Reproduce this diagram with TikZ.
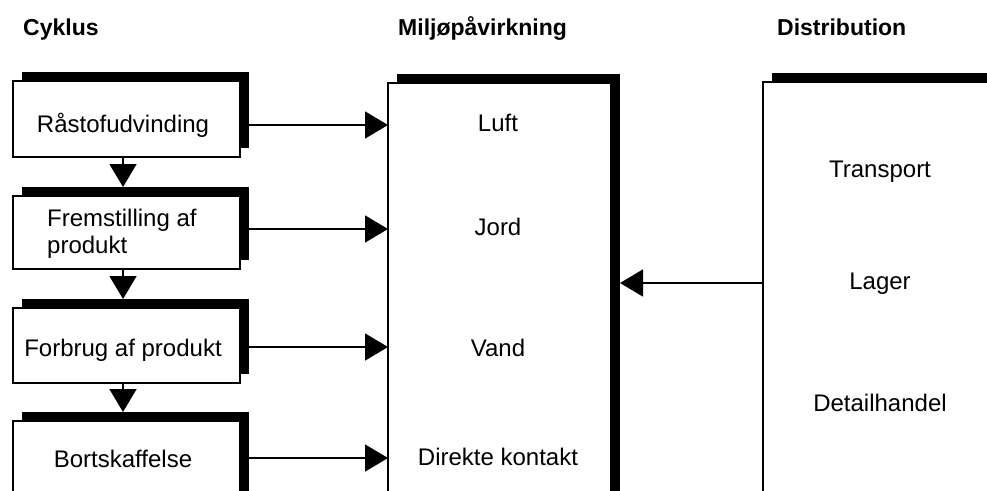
\documentclass[tikz,border=0pt]{standalone}
\usepackage{fontspec}
\setmainfont{Liberation Sans}
\usetikzlibrary{arrows.meta,shadows,calc}
\begin{document}
\begin{tikzpicture}[x=1pt,y=-1pt,
  box/.style={draw=black, fill=white, line width=1.6pt, anchor=north west,
    inner sep=0pt, outer sep=0pt,
    general shadow={fill=black, shadow xshift=9pt, shadow yshift=9pt}},
  lbl/.style={font=\fontsize{24pt}{27pt}\selectfont, inner sep=0pt, anchor=base},
  hdr/.style={font=\fontsize{23pt}{27pt}\selectfont\bfseries, inner sep=0pt, anchor=base west},
  arr/.style={line width=1.6pt, -{Triangle[length=23pt,width=27pt]}}]
\useasboundingbox (0,0) rectangle (987,490);
\clip (0,0) rectangle (987,490);
% headers
\node[hdr] (hcyk) at (23,35) {Cyklus};
\node[hdr] (hmil) at (398,35) {Miljøpåvirkning};
\node[hdr] (hdis) at (777,35) {Distribution};
% boxes
\node[box, minimum width=227pt, minimum height=76pt] (b1) at (13,81) {};
\node[box, minimum width=227pt, minimum height=73pt] (b2) at (13,196) {};
\node[box, minimum width=227pt, minimum height=75pt] (b3) at (13,308) {};
\node[box, minimum width=227pt, minimum height=100pt] (b4) at (13,421) {};
\node[box, minimum width=223pt, minimum height=430pt] (mid) at (388,83) {};
\node[box, minimum width=260pt, minimum height=430pt] (dist) at (763,82) {};
% texts
\node[lbl] (t1) at (123,132) {Råstofudvinding};
\node[lbl, anchor=base west, align=left] (t2) at (47,253) {Fremstilling af\\produkt};
\node[lbl] (t3) at (123,356) {Forbrug af produkt};
\node[lbl] (t4) at (123,467) {Bortskaffelse};
\node[lbl] (m1) at (498,131) {Luft};
\node[lbl] (m2) at (498,235) {Jord};
\node[lbl] (m3) at (498,356) {Vand};
\node[lbl] (m4) at (498,465) {Direkte kontakt};
\node[lbl] (d1) at (880,177) {Transport};
\node[lbl] (d2) at (880,289) {Lager};
\node[lbl] (d3) at (880,411) {Detailhandel};
% connector rows/column
\coordinate (col) at (123,0);
\coordinate (r1) at (0,125);
\coordinate (r2) at (0,229);
\coordinate (r3) at (0,347);
\coordinate (r4) at (0,458);
\coordinate (r5) at (0,283);
% vertical arrows
\draw[arr] (b1.south -| col) -- ($(b2.north -| col)+(0,-9)$);
\draw[arr] (b2.south -| col) -- ($(b3.north -| col)+(0,-9)$);
\draw[arr] (b3.south -| col) -- ($(b4.north -| col)+(0,-9)$);
% horizontal arrows
\draw[arr] (b1.east |- r1) -- (mid.west |- r1);
\draw[arr] (b2.east |- r2) -- (mid.west |- r2);
\draw[arr] (b3.east |- r3) -- (mid.west |- r3);
\draw[arr] (b4.east |- r4) -- (mid.west |- r4);
\draw[arr] (dist.west |- r5) -- ($(mid.east |- r5)+(9,0)$);
\end{tikzpicture}
\end{document}
